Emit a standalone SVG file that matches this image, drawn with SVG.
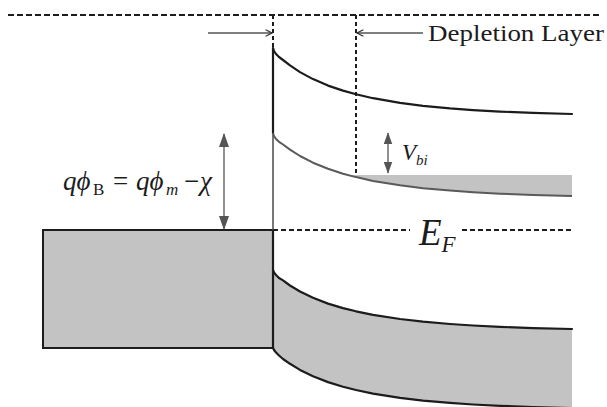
<svg xmlns="http://www.w3.org/2000/svg" width="607" height="407" viewBox="0 0 607 407">
<defs>
<style>
.band{fill:none;stroke:#1c1c1c;stroke-width:2.2;stroke-linejoin:round;stroke-linecap:round}
.gband{fill:none;stroke:#5a5a5a;stroke-width:2;stroke-linejoin:round}
.fill{fill:#c3c3c3;stroke:none}
.dash{fill:none;stroke:#1c1c1c;stroke-width:2}
.thin{fill:none;stroke:#555;stroke-width:1.3}
.serif{font-family:"Liberation Serif","Times New Roman",serif;fill:#1c1c1c}
.it{font-style:italic}
</style>
<marker id="chev" viewBox="0 0 10 10" refX="9" refY="5" markerWidth="8" markerHeight="8" markerUnits="userSpaceOnUse" orient="auto">
<path d="M1,1 L9,5 L1,9" fill="none" stroke="#333" stroke-width="1.4"/>
</marker>
<marker id="tri" viewBox="0 0 14 10" refX="13" refY="5" markerWidth="14" markerHeight="10" markerUnits="userSpaceOnUse" orient="auto-start-reverse">
<path d="M0,0 L14,5 L0,10 Z" fill="#555"/>
</marker>
<marker id="tris" viewBox="0 0 14 10" refX="13" refY="5" markerWidth="12" markerHeight="9" markerUnits="userSpaceOnUse" orient="auto-start-reverse">
<path d="M0,0 L14,5 L0,10 Z" fill="#555"/>
</marker>
</defs>
<rect width="607" height="407" fill="#fff"/>

<g id="metal">
<rect x="43" y="230" width="230" height="118" fill="#c3c3c3" stroke="#1c1c1c" stroke-width="2"/>
</g>

<g id="valence-band">
<path class="fill" d="M273,270 L274,272.5 L276,275 L279,278 L283,280.4 L290,285.5 L300,291.5 L313,297.8 L328,303.6 L343,308.1 L356,311.3 L373,314.8 L400,319 L423,321.7 L450,324 L473,325.5 L500,326.9 L533,328.1 L572,329 L572,408 L533,407 L500,405.8 L473,404.5 L450,402.9 L423,400.6 L400,397.8 L373,393.6 L356,390 L343,386.8 L328,382.1 L313,376.3 L300,369.9 L290,363.8 L283,359 L279,355.5 L276,352.5 L274,350 L273,348 Z"/>
<path class="band" d="M273,270 L274,272.5 L276,275 L279,278 L283,280.4 L290,285.5 L300,291.5 L313,297.8 L328,303.6 L343,308.1 L356,311.3 L373,314.8 L400,319 L423,321.7 L450,324 L473,325.5 L500,326.9 L533,328.1 L572,329"/>
<path class="band" d="M273,348 L274,350 L276,352.5 L279,355.5 L283,359 L290,363.8 L300,369.9 L313,376.3 L328,382.1 L343,386.8 L356,390 L373,393.6 L400,397.8 L423,400.6 L450,402.9 L473,404.5 L500,405.8 L533,407 L572,408"/>
</g>

<g id="conduction-band">
<path class="band" d="M273,48 L274,51 L276,54 L279,57 L283,60 L290,65.4 L300,72.1 L313,79.1 L328,85.6 L343,90.6 L356,94.2 L373,98.2 L400,102.8 L423,105.8 L450,108.4 L473,110.1 L500,111.6 L533,112.9 L572,114"/>
</g>

<g id="lower-band">
<path class="fill" d="M348,175 L572,175 L572,196 L533,195 L500,193.7 L473,192.3 L450,190.6 L423,188.2 L400,185.3 L373,180.9 L356,177.1 Z"/>
<path class="gband" d="M273,133 L274,136 L276,139 L279,141.8 L283,144.5 L290,149.6 L300,156 L313,162.7 L328,168.8 L343,173.7 L356,177.1 L373,180.9 L400,185.3 L423,188.2 L450,190.6 L473,192.3 L500,193.7 L533,195 L572,196"/>
</g>

<g id="interface">
<line x1="273" y1="48" x2="273" y2="133" stroke="#1c1c1c" stroke-width="2.2"/>
<line x1="273" y1="133" x2="273" y2="230" stroke="#555" stroke-width="1.6"/>
<line x1="273" y1="230" x2="273" y2="349" stroke="#1c1c1c" stroke-width="2.2"/>
</g>

<g id="connectors">
<line class="dash" x1="8" y1="15" x2="600" y2="15" stroke-dasharray="6 3"/>
<line class="dash" x1="273" y1="15" x2="273" y2="48" stroke-dasharray="4 3"/>
<line class="dash" x1="356" y1="15" x2="356" y2="176" stroke-dasharray="4 3"/>
<line class="dash" x1="273" y1="230" x2="410" y2="230" stroke-dasharray="5 3"/>
<line class="dash" x1="462" y1="230" x2="572" y2="230" stroke-dasharray="5 3"/>
<line class="thin" x1="208" y1="33" x2="272" y2="33" marker-end="url(#chev)"/>
<line class="thin" x1="423" y1="33" x2="357" y2="33" marker-end="url(#chev)"/>
<line class="thin" x1="224" y1="134" x2="224" y2="229" marker-start="url(#tri)" marker-end="url(#tri)"/>
<line class="thin" x1="388" y1="133" x2="388" y2="173" marker-start="url(#tris)" marker-end="url(#tris)"/>
</g>

<g id="labels">
<text class="serif" x="428" y="41" font-size="24" textLength="176" lengthAdjust="spacingAndGlyphs">Depletion Layer</text>
<text class="serif" font-size="27" y="190"><tspan class="it" x="63">qϕ</tspan><tspan x="93" y="195" font-size="17">B</tspan><tspan x="113" y="190">=</tspan><tspan class="it" x="136">qϕ</tspan><tspan class="it" x="166" y="195" font-size="17">m</tspan><tspan x="184" y="190">−</tspan><tspan class="it" x="200">χ</tspan></text>
<text class="serif it" x="402" y="160" font-size="23">V<tspan font-size="15" dy="5">bi</tspan></text>
<text class="serif it" x="419" y="245" font-size="37">E<tspan font-size="23" dy="7">F</tspan></text>
</g>
</svg>
